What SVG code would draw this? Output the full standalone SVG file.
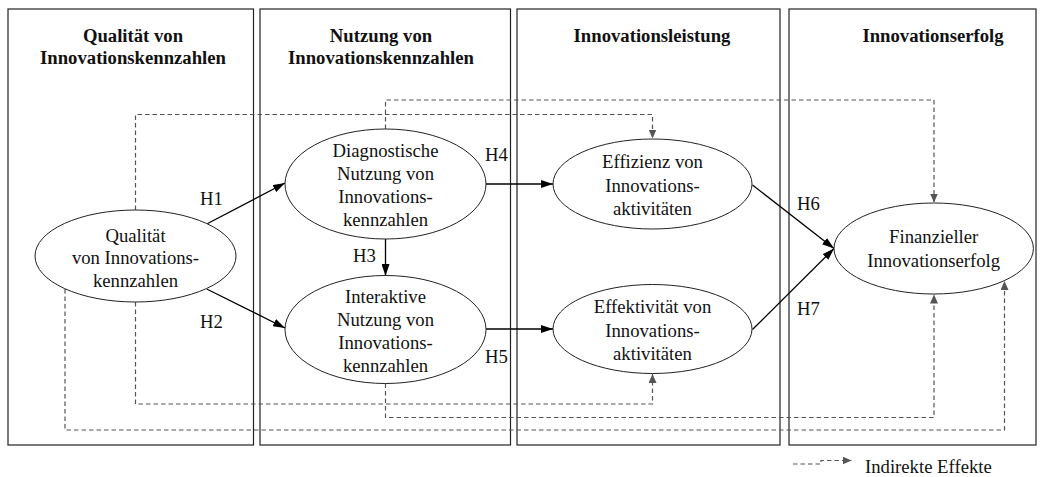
<svg xmlns="http://www.w3.org/2000/svg" width="1044" height="477" viewBox="0 0 1044 477">
<style>
.box{fill:none;stroke:#222;stroke-width:1.2}
.node{fill:#fff;stroke:#222;stroke-width:1}
.hd{font-family:"Liberation Serif","Times New Roman",serif;font-size:18.7px;font-weight:bold;fill:#111;text-anchor:middle}
.t{font-family:"Liberation Serif","Times New Roman",serif;font-size:18.7px;fill:#111;text-anchor:middle}
.lbl{font-family:"Liberation Serif","Times New Roman",serif;font-size:18.7px;fill:#111}
.solid{fill:none;stroke:#000;stroke-width:1.3}
.dash{fill:none;stroke:#555;stroke-width:1.2;stroke-dasharray:4.5,3}
</style>
<defs>
<marker id="ah" viewBox="0 0 12 8" refX="12" refY="4" markerWidth="12" markerHeight="8" markerUnits="userSpaceOnUse" orient="auto"><path d="M0,0 L12,4 L0,8 Z" fill="#000"/></marker>
<marker id="dh" viewBox="0 0 9 8" refX="9" refY="4" markerWidth="9" markerHeight="8" markerUnits="userSpaceOnUse" orient="auto"><path d="M0,0 L9,4 L0,8 Z" fill="#555"/></marker>
</defs>
<g id="columns">
<rect class="box" x="8" y="9" width="245.5" height="436"/>
<rect class="box" x="260" y="9" width="250.5" height="436"/>
<rect class="box" x="517" y="9" width="263" height="436"/>
<rect class="box" x="789" y="9" width="247" height="436"/>
<text class="hd" x="133" y="42">Qualität von</text>
<text class="hd" x="133" y="64">Innovationskennzahlen</text>
<text class="hd" x="381" y="42">Nutzung von</text>
<text class="hd" x="381" y="64">Innovationskennzahlen</text>
<text class="hd" x="652" y="42">Innovationsleistung</text>
<text class="hd" x="933" y="42">Innovationserfolg</text>
</g>
<g id="connectors">
<path class="dash" d="M135.5,210 V114.5 H652.5 V138.5" marker-end="url(#dh)"/>
<path class="dash" d="M385.5,129 V100 H934 V202.5" marker-end="url(#dh)"/>
<path class="dash" d="M135.5,302 V404 H652.5 V374" marker-end="url(#dh)"/>
<path class="dash" d="M65,289 V430 H1004.5 V281" marker-end="url(#dh)"/>
<path class="dash" d="M385.5,383.5 V417.5 H934 V294.5" marker-end="url(#dh)"/>
<path class="solid" d="M206.7,224 L285,183" marker-end="url(#ah)"/>
<path class="solid" d="M206.7,289 L285,328" marker-end="url(#ah)"/>
<path class="solid" d="M385.5,239 V276" marker-end="url(#ah)"/>
<path class="solid" d="M486,184 H553" marker-end="url(#ah)"/>
<path class="solid" d="M486,329 H553" marker-end="url(#ah)"/>
<path class="solid" d="M752.5,185 L834,248.5" marker-end="url(#ah)"/>
<path class="solid" d="M752.5,329.5 L834,248.5" marker-end="url(#ah)"/>
<text class="lbl" x="200" y="205">H1</text>
<text class="lbl" x="200" y="328">H2</text>
<text class="lbl" x="353" y="262">H3</text>
<text class="lbl" x="485" y="161">H4</text>
<text class="lbl" x="485" y="363">H5</text>
<text class="lbl" x="797" y="210">H6</text>
<text class="lbl" x="797" y="315">H7</text>
</g>
<g id="n_qualitaet">
<ellipse class="node" cx="135.5" cy="256" rx="100.5" ry="46"/>
<text class="t" x="135.5" y="242">Qualität</text>
<text class="t" x="135.5" y="264">von Innovations-</text>
<text class="t" x="135.5" y="287">kennzahlen</text>
</g>
<g id="n_diagnostisch">
<ellipse class="node" cx="385.5" cy="184" rx="100.5" ry="55"/>
<text class="t" x="385.5" y="157">Diagnostische</text>
<text class="t" x="385.5" y="180">Nutzung von</text>
<text class="t" x="385.5" y="203">Innovations-</text>
<text class="t" x="385.5" y="226">kennzahlen</text>
</g>
<g id="n_interaktiv">
<ellipse class="node" cx="385.5" cy="329.5" rx="100.5" ry="54"/>
<text class="t" x="385.5" y="303">Interaktive</text>
<text class="t" x="385.5" y="326">Nutzung von</text>
<text class="t" x="385.5" y="349">Innovations-</text>
<text class="t" x="385.5" y="372">kennzahlen</text>
</g>
<g id="n_effizienz">
<ellipse class="node" cx="652.5" cy="184" rx="99.5" ry="45"/>
<text class="t" x="652.5" y="168">Effizienz von</text>
<text class="t" x="652.5" y="192">Innovations-</text>
<text class="t" x="652.5" y="215">aktivitäten</text>
</g>
<g id="n_effektivitaet">
<ellipse class="node" cx="652.5" cy="329" rx="99.5" ry="44.5"/>
<text class="t" x="652.5" y="313">Effektivität von</text>
<text class="t" x="652.5" y="337">Innovations-</text>
<text class="t" x="652.5" y="360">aktivitäten</text>
</g>
<g id="n_finanziell">
<ellipse class="node" cx="933.7" cy="248.5" rx="99.7" ry="45.5"/>
<text class="t" x="933.7" y="243">Finanzieller</text>
<text class="t" x="933.7" y="267">Innovationserfolg</text>
</g>
<g id="legend">
<path class="dash" d="M793,464 H821 V460.5 H851.5" marker-end="url(#dh)"/>
<text class="lbl" x="865" y="473">Indirekte Effekte</text>
</g>
</svg>
